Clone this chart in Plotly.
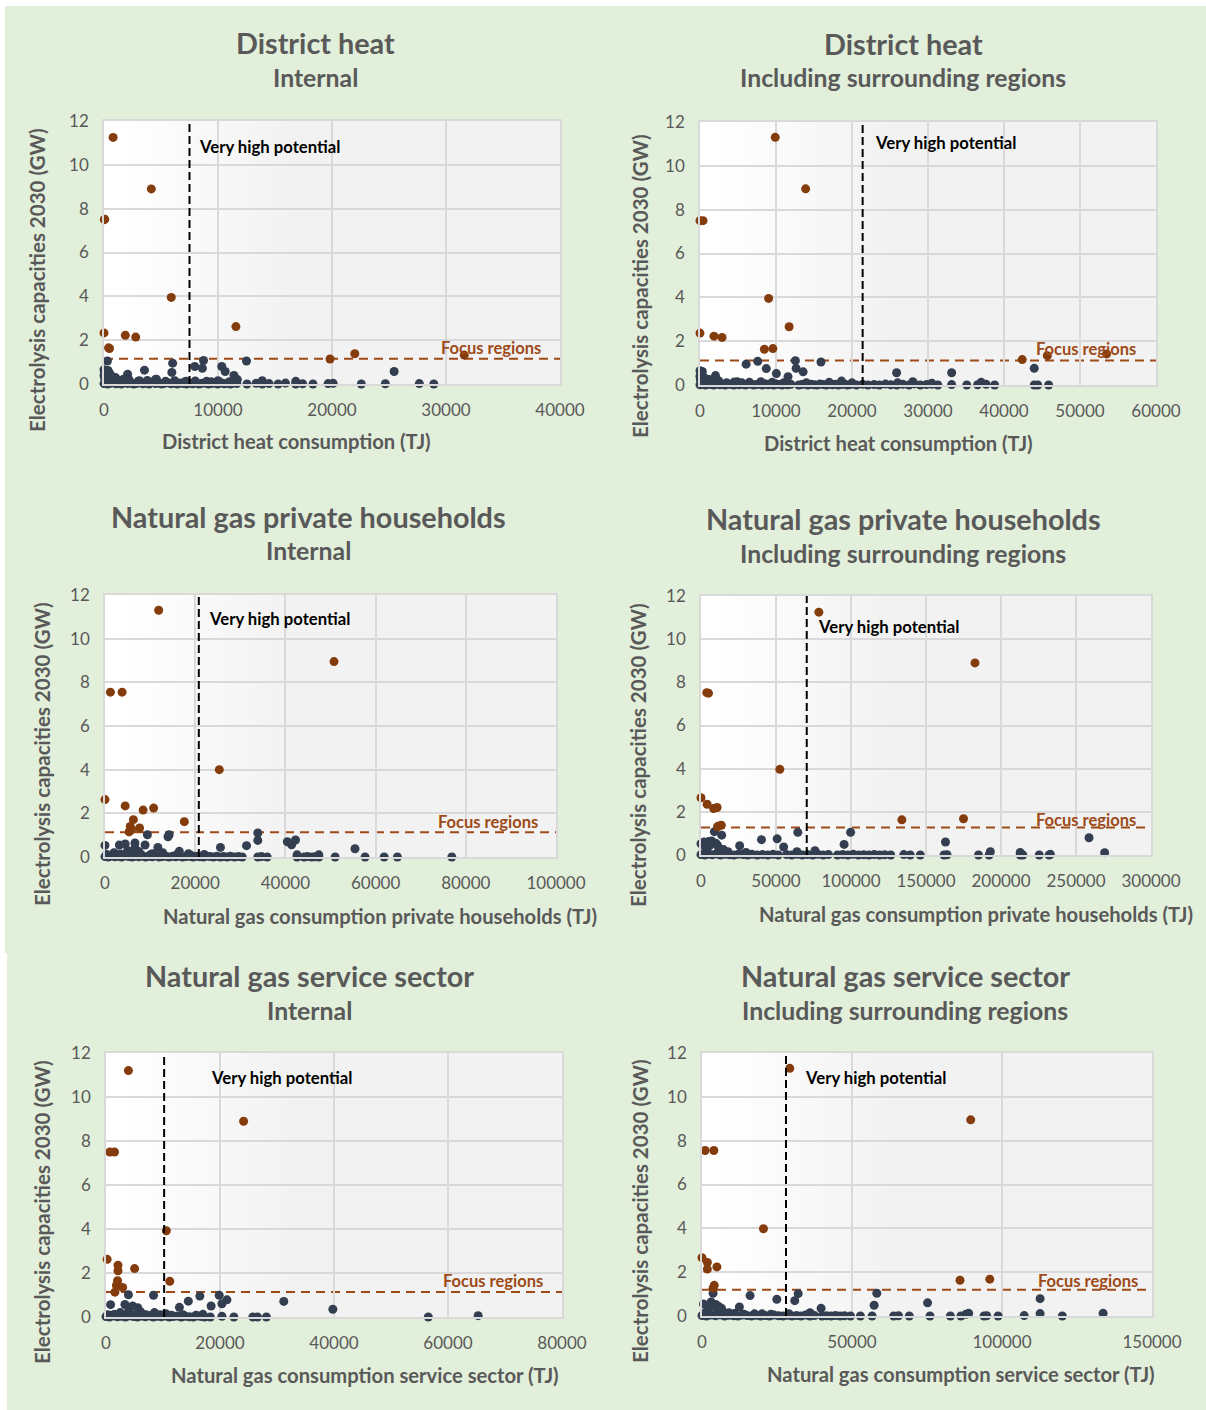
import plotly.graph_objects as go

# ---------------- DATA ----------------
# Each list holds (consumption TJ, electrolysis capacity 2030 GW) pairs.

dh_int_focus = [(800, 11.25), (4150, 8.9), (30, 7.5), (60, 7.52), (5900, 3.95), (0, 2.33),
                (1870, 2.22), (2780, 2.14), (400, 1.65), (480, 1.62), (11570, 2.62),
                (19830, 1.14), (22000, 1.38), (31600, 1.32)]
dh_int_other = [(0, 0.65), (40, 0.55), (90, 0.45), (150, 0.6), (210, 0.35), (300, 1.05), (350, 0.62),
                (420, 0.3), (480, 0.5), (60, 0.25), (130, 0.2), (260, 0.18), (0, 0.38), (380, 0.12),
                (2070, 0.45), (3550, 0.63), (4500, 0.2), (5950, 0.53), (6020, 0.95), (7960, 0.8),
                (8630, 0.72), (8730, 1.07), (10330, 0.8), (10630, 0.57), (11400, 0.39), (12500, 1.05),
                (13880, 0.15), (16820, 0.12), (25450, 0.57), (11700, 0.2), (7200, 0.12), (3100, 0.15),
                (9400, 0.1),
                (0, 0.02), (170, 0.05), (330, 0.0), (560, 0.03), (780, 0.06), (1050, 0.01), (1290, 0.04),
                (1530, 0.0), (1820, 0.07), (2080, 0.02), (2330, 0.05), (2610, 0.0), (2900, 0.03),
                (3140, 0.06), (3420, 0.01), (3690, 0.04), (3960, 0.0), (4230, 0.08), (4520, 0.02),
                (4780, 0.05), (5060, 0.0), (5330, 0.03), (5590, 0.06), (5880, 0.01), (6150, 0.04),
                (6430, 0.0), (6690, 0.05), (6960, 0.02), (7240, 0.0), (7520, 0.04), (7790, 0.01),
                (8070, 0.06), (8330, 0.0), (8610, 0.03), (8890, 0.05), (9170, 0.0), (9430, 0.02),
                (9720, 0.04), (9980, 0.0), (10270, 0.06), (10530, 0.01), (10810, 0.03), (11090, 0.0),
                (11370, 0.05), (11650, 0.02), (12540, 0.0), (13340, 0.03), (13880, 0.0), (14480, 0.02),
                (15280, 0.0), (15920, 0.04), (16820, 0.0), (17420, 0.01), (18330, 0.0), (19660, 0.02),
                (20100, 0.03), (22570, 0.0), (24680, 0.01), (27660, 0.02), (28930, 0.0),
                (250, 0.15), (700, 0.18), (1400, 0.14), (2200, 0.2), (3000, 0.13), (3800, 0.16),
                (4600, 0.22), (5400, 0.12), (6200, 0.15), (7100, 0.1), (8000, 0.14), (9000, 0.12),
                (10000, 0.15), (11000, 0.1), (1000, 0.3), (600, 0.4), (1700, 0.22)]

dh_sur_focus = [(9900, 11.3), (13900, 8.95), (0, 7.5), (400, 7.5), (9030, 3.95), (11730, 2.66),
                (0, 2.37), (1840, 2.23), (2900, 2.17), (8470, 1.63), (9590, 1.66), (42400, 1.16),
                (45700, 1.34), (53500, 1.42)]
dh_sur_other = [(0, 0.65), (100, 0.55), (200, 0.45), (300, 0.62), (400, 0.35), (50, 0.25), (150, 0.2),
                (350, 0.15), (0, 0.4), (250, 0.5),
                (2040, 0.43), (6070, 0.95), (7600, 1.08), (8720, 0.75), (10050, 0.52), (11580, 0.38),
                (12550, 1.11), (12650, 0.76), (13570, 0.6), (15920, 1.05), (25870, 0.56), (33110, 0.56),
                (43980, 0.76), (18620, 0.18), (28000, 0.15), (4900, 0.15), (20000, 0.1), (37000, 0.12),
                (0, 0.01), (350, 0.04), (720, 0.0), (1100, 0.05), (1450, 0.02), (1800, 0.0), (2200, 0.06),
                (2600, 0.01), (2950, 0.03), (3300, 0.0), (3700, 0.05), (4050, 0.02), (4450, 0.0),
                (4800, 0.04), (5200, 0.01), (5550, 0.06), (5950, 0.0), (6300, 0.03), (6700, 0.05),
                (7050, 0.0), (7450, 0.02), (7800, 0.04), (8200, 0.0), (8550, 0.06), (8950, 0.01),
                (9300, 0.03), (9700, 0.0), (10050, 0.05), (10450, 0.02), (10800, 0.0), (11200, 0.04),
                (11550, 0.01), (11950, 0.03), (13000, 0.0), (13400, 0.02), (13800, 0.05), (14200, 0.0),
                (14600, 0.03), (15000, 0.01), (15400, 0.0), (15800, 0.04), (16200, 0.02), (16600, 0.0),
                (17000, 0.05), (17400, 0.01), (17800, 0.03), (18200, 0.0), (18600, 0.02), (19000, 0.04),
                (19400, 0.0), (19800, 0.02), (20600, 0.0), (21400, 0.03), (22100, 0.0), (22900, 0.02),
                (23600, 0.0), (24400, 0.04), (25100, 0.01), (25900, 0.0), (26700, 0.03), (27500, 0.0),
                (28200, 0.05), (29000, 0.0), (29800, 0.02), (30500, 0.03), (31300, 0.0), (33110, 0.02),
                (35100, 0.0), (36530, 0.01), (37650, 0.03), (38770, 0.0), (43980, 0.0), (44440, 0.0),
                (45870, 0.0),
                (500, 0.15), (1500, 0.12), (2500, 0.18), (3500, 0.1), (4500, 0.14), (5500, 0.1),
                (6500, 0.12), (8000, 0.15), (9500, 0.12), (11000, 0.1), (14000, 0.1), (17000, 0.12),
                (26000, 0.1), (30500, 0.08), (700, 0.3), (1200, 0.25)]

gh_int_focus = [(11900, 11.3), (50780, 8.95), (1200, 7.55), (3790, 7.55), (25340, 4.0), (0, 2.63),
                (4480, 2.34), (8450, 2.15), (10780, 2.24), (17590, 1.62), (6290, 1.71), (5600, 1.4),
                (5340, 1.15), (7670, 1.33), (5860, 1.25)]
gh_int_other = [(0, 0.53), (3190, 0.55), (4480, 0.6), (6640, 0.64), (6640, 0.41), (8880, 0.55),
                (9400, 1.02), (11720, 0.44), (13970, 0.93), (14220, 1.02), (16470, 0.26), (25600, 0.44),
                (31380, 0.52), (33880, 1.1), (33880, 0.76), (40430, 0.7), (41380, 0.56), (42240, 0.78),
                (55430, 0.38), (42590, 0.1), (47410, 0.1), (5000, 0.3), (2000, 0.2), (7500, 0.25),
                (10500, 0.15), (12800, 0.2), (18500, 0.15), (22000, 0.12),
                (0, 0.02), (700, 0.0), (1500, 0.05), (2200, 0.01), (3000, 0.03), (3700, 0.0), (4500, 0.06),
                (5200, 0.02), (6000, 0.0), (6700, 0.04), (7500, 0.01), (8200, 0.05), (9000, 0.0),
                (9700, 0.03), (10500, 0.01), (11200, 0.06), (12000, 0.0), (12700, 0.02), (13500, 0.04),
                (14200, 0.0), (15000, 0.03), (15700, 0.01), (16500, 0.05), (17200, 0.0), (18000, 0.02),
                (18700, 0.04), (19500, 0.0), (20200, 0.03), (21000, 0.01), (21800, 0.0), (22500, 0.04),
                (23300, 0.02), (24000, 0.0), (24800, 0.03), (25600, 0.0), (26300, 0.02), (27100, 0.0),
                (27800, 0.04), (28700, 0.0), (29600, 0.02), (30430, 0.0), (33880, 0.0), (34700, 0.02),
                (35950, 0.0), (42590, 0.0), (44140, 0.0), (44900, 0.02), (45860, 0.0), (46600, 0.01),
                (47410, 0.0), (51030, 0.0), (57670, 0.0), (61900, 0.0), (64830, 0.0), (76900, 0.0),
                (400, 0.12), (1800, 0.1), (3400, 0.14), (5600, 0.1), (8000, 0.12), (10000, 0.1),
                (13000, 0.08), (16000, 0.12), (19000, 0.08)]

gh_sur_focus = [(78570, 11.25), (182650, 8.9), (3830, 7.52), (5000, 7.5), (52550, 3.97), (0, 2.65),
                (4080, 2.35), (8420, 2.15), (10710, 2.2), (133900, 1.63), (175000, 1.68), (11000, 1.31),
                (13520, 1.38), (11700, 1.34)]
gh_sur_other = [(0, 0.52), (3060, 0.34), (8930, 1.08), (5100, 0.62), (7140, 0.65), (9950, 0.54),
                (13780, 0.92), (25770, 0.43), (40310, 0.71), (50770, 0.75), (55100, 0.37), (64540, 1.05),
                (95400, 0.49), (99740, 1.05), (163000, 0.6), (258700, 0.8), (269100, 0.11),
                (192900, 0.15), (212800, 0.12), (2000, 0.6), (11000, 0.45), (4000, 0.2), (15000, 0.25),
                (18000, 0.15), (30000, 0.12), (64000, 0.15), (76000, 0.2), (2500, 0.42), (6000, 0.45),
                (12000, 0.3),
                (0, 0.02), (2500, 0.0), (5000, 0.04), (7500, 0.01), (10000, 0.05), (13000, 0.0),
                (16000, 0.03), (19000, 0.01), (22000, 0.0), (25000, 0.04), (28000, 0.02), (31000, 0.0),
                (34000, 0.03), (37500, 0.0), (41000, 0.02), (44500, 0.0), (48000, 0.03), (51500, 0.0),
                (57000, 0.02), (60500, 0.0), (64000, 0.03), (67500, 0.0), (71000, 0.02), (74500, 0.0),
                (78000, 0.03), (81500, 0.0), (85000, 0.02), (91000, 0.0), (94500, 0.02), (98000, 0.0),
                (101500, 0.03), (105000, 0.0), (108500, 0.01), (112000, 0.0), (115500, 0.02),
                (119000, 0.0), (122500, 0.01), (126500, 0.0), (135200, 0.02), (139500, 0.0),
                (146200, 0.0), (162000, 0.0), (164000, 0.01), (185000, 0.0), (192100, 0.0),
                (212800, 0.0), (214500, 0.0), (225500, 0.0), (232100, 0.0), (232900, 0.03)]

gs_int_focus = [(3930, 11.2), (24140, 8.9), (680, 7.5), (1490, 7.5), (10580, 3.92), (200, 2.62),
                (2100, 2.35), (2100, 2.1), (5020, 2.2), (11190, 1.62), (2030, 1.65), (1830, 1.43),
                (2920, 1.34), (1560, 1.13)]
gs_int_other = [(810, 0.56), (3930, 1.01), (3320, 0.57), (4680, 0.5), (5560, 0.42), (8340, 0.99),
                (12880, 0.44), (14440, 0.72), (16470, 0.95), (18440, 0.5), (19860, 0.99), (20340, 0.6),
                (21220, 0.78), (31190, 0.71), (39800, 0.35), (65290, 0.06), (2500, 0.2), (6000, 0.25),
                (8500, 0.2), (10500, 0.15), (1500, 0.12), (4000, 0.3), (7000, 0.1),
                (0, 0.02), (600, 0.0), (1300, 0.05), (2000, 0.01), (2700, 0.03), (3400, 0.0), (4100, 0.05),
                (4800, 0.02), (5500, 0.0), (6200, 0.04), (6900, 0.01), (7600, 0.05), (8300, 0.0),
                (9000, 0.03), (9700, 0.01), (10400, 0.04), (11100, 0.0), (11800, 0.02), (12500, 0.04),
                (13200, 0.0), (13900, 0.03), (14600, 0.01), (15300, 0.0), (16000, 0.04), (16700, 0.02),
                (17300, 0.0), (18300, 0.0), (20340, 0.03), (22440, 0.0), (25760, 0.0), (26580, 0.0),
                (28140, 0.0), (56540, 0.0),
                (300, 0.1), (1000, 0.08), (2300, 0.1), (3700, 0.12), (5200, 0.1), (6500, 0.12),
                (8000, 0.08), (9500, 0.1), (11500, 0.08), (13500, 0.1), (15800, 0.08), (17000, 0.12)]

gs_sur_focus = [(29260, 11.3), (89570, 8.95), (1020, 7.55), (3940, 7.55), (20480, 3.98), (0, 2.66),
                (1780, 2.44), (1780, 2.14), (4960, 2.24), (4070, 1.4), (3690, 1.27), (86000, 1.63),
                (95930, 1.68)]
gs_sur_other = [(3690, 1.04), (510, 0.55), (3050, 0.64), (4580, 0.53), (5600, 0.43), (16030, 0.93),
                (12470, 0.41), (24940, 0.76), (30920, 0.7), (32060, 1.02), (39700, 0.35), (57380, 0.49),
                (58270, 1.04), (75190, 0.6), (112700, 0.79), (112700, 0.11), (133700, 0.12),
                (88900, 0.12), (88000, 0.08), (2000, 0.3), (7000, 0.2), (9000, 0.15), (6500, 0.35),
                (1200, 0.15), (20000, 0.1), (36000, 0.15), (4000, 0.45),
                (0, 0.02), (1500, 0.0), (3000, 0.04), (4500, 0.01), (6000, 0.05), (7500, 0.0),
                (9000, 0.03), (10500, 0.01), (12000, 0.0), (13500, 0.04), (15000, 0.02), (16500, 0.0),
                (18000, 0.03), (19500, 0.0), (21000, 0.02), (22500, 0.0), (24000, 0.04), (25500, 0.01),
                (27000, 0.0), (28500, 0.03), (30000, 0.0), (31500, 0.02), (33000, 0.0), (34500, 0.04),
                (36000, 0.0), (37500, 0.02), (40000, 0.0), (41500, 0.01), (43000, 0.0), (44500, 0.02),
                (46000, 0.0), (47500, 0.01), (49500, 0.0), (52800, 0.0), (56700, 0.0), (63900, 0.0),
                (65500, 0.01), (69100, 0.0), (76000, 0.0), (82800, 0.0), (86300, 0.0), (94000, 0.0),
                (94900, 0.01), (98700, 0.0), (107400, 0.02), (120100, 0.0),
                (800, 0.1), (2500, 0.12), (5200, 0.15), (8000, 0.1), (11000, 0.12), (14000, 0.08),
                (17500, 0.1), (23000, 0.08), (29000, 0.1)]

# threshold lines
very_high_threshold = [7500, 21400, 20800, 70500, 10200, 28000]   # TJ
focus_threshold = [1.15, 1.12, 1.13, 1.27, 1.14, 1.2]            # GW

titles = ["District heat", "District heat", "Natural gas private households",
          "Natural gas private households", "Natural gas service sector", "Natural gas service sector"]
subtitles = ["Internal", "Including surrounding regions"] * 3
x_titles = ["District heat consumption (TJ)", "District heat consumption (TJ)",
            "Natural gas consumption private households (TJ)",
            "Natural gas consumption private households (TJ)",
            "Natural gas consumption service sector (TJ)",
            "Natural gas consumption service sector (TJ)"]
y_title = "Electrolysis capacities 2030 (GW)"
x_max = [40000, 60000, 100000, 300000, 80000, 150000]
x_dtick = [10000, 10000, 20000, 50000, 20000, 50000]

focus_sets = [dh_int_focus, dh_sur_focus, gh_int_focus, gh_sur_focus, gs_int_focus, gs_sur_focus]
other_sets = [dh_int_other, dh_sur_other, gh_int_other, gh_sur_other, gs_int_other, gs_sur_other]

# ---------------- LAYOUT / STYLE ----------------
W, H = 1206, 1410
FONT = "Lato"
GREY = "#595959"
DARK = "#333f50"
ORANGE = "#843c0c"
FOCUS_LINE = "#9e4a17"
GREEN = "#e2efda"

# plot boxes in pixels: left, right, top, bottom
boxes = [(104, 560, 121, 384), (700, 1156, 122, 385),
         (105, 556, 595, 857), (701, 1151, 596, 855),
         (106, 562, 1053, 1317), (702, 1152, 1053, 1316)]
title_pos = [(315, 43, 77), (903, 44, 78), (308, 517, 551), (903, 519, 553), (309, 976, 1010), (905, 976, 1010)]
xtitle_pos = [(296, 441), (898, 443), (380, 916), (976, 914), (365, 1375), (961, 1374)]
ytitle_pos = [(37, 280), (640, 286), (42, 754), (638, 755), (42, 1212), (640, 1211)]
vhp_pos = [(8180, 10.8), (22710, 11.05), (22570, 10.9), (76500, 10.55), (18070, 10.86), (33700, 10.86)]
focus_lbl_pos = [(38500, 1.64), (57630, 1.64), (96460, 1.6), (291400, 1.61), (77000, 1.64), (146000, 1.59)]


def px(x):
    return x / W


def py(y):
    return 1 - y / H


fig = go.Figure()
layout = dict(width=W, height=H, margin=dict(l=0, r=0, t=0, b=0, pad=0, autoexpand=False),
              autosize=False,
              paper_bgcolor=GREEN, plot_bgcolor="#f2f2f2", showlegend=False,
              font=dict(family=FONT, color=GREY))
shapes = []
annotations = []

# white strips along the top / left picture edges
shapes.append(dict(type="rect", xref="paper", yref="paper", x0=0, x1=1, y0=py(6), y1=1.01,
                   fillcolor="white", line_width=0, layer="above"))
shapes.append(dict(type="rect", xref="paper", yref="paper", x0=-0.01, x1=px(5), y0=py(953), y1=1.01,
                   fillcolor="white", line_width=0, layer="above"))
shapes.append(dict(type="rect", xref="paper", yref="paper", x0=-0.01, x1=px(7), y0=-0.01, y1=py(953),
                   fillcolor="white", line_width=0, layer="above"))

for i in range(6):
    n = i + 1
    xs = "x" if n == 1 else f"x{n}"
    ys = "y" if n == 1 else f"y{n}"
    l, r, t, b = boxes[i]
    axis_common = dict(showgrid=True, gridcolor="#d9d9d9", gridwidth=1.5, zeroline=False,
                       showline=True, mirror=True, linecolor="#d9d9d9", linewidth=1.5,
                       ticks="outside", ticklen=10, tickcolor="rgba(0,0,0,0)", automargin=False,
                       tickfont=dict(family=FONT, size=17, color=GREY))
    layout["xaxis" if n == 1 else f"xaxis{n}"] = dict(
        domain=[px(l), px(r)], range=[0, x_max[i]], dtick=x_dtick[i], tickformat="d",
        anchor=ys, **axis_common)
    layout["yaxis" if n == 1 else f"yaxis{n}"] = dict(
        domain=[py(b), py(t)], range=[0, 12], dtick=2, anchor=xs, **axis_common)

    # gradient background (white at left fading into grey)
    steps = 13
    g0, g1 = 0.02, 0.40
    shapes.append(dict(type="rect", xref=f"{xs} domain", yref=f"{ys} domain", x0=0, x1=g0 + 0.001,
                       y0=0, y1=1, fillcolor="white", line_width=0, layer="below"))
    for k in range(steps):
        c = 255 - k
        shapes.append(dict(type="rect", xref=f"{xs} domain", yref=f"{ys} domain",
                           x0=g0 + (g1 - g0) * k / steps, x1=g0 + (g1 - g0) * (k + 1) / steps + 0.002,
                           y0=0, y1=1, fillcolor=f"rgb({c},{c},{c})", line_width=0, layer="below"))
    shapes.append(dict(type="rect", xref=f"{xs} domain", yref=f"{ys} domain", x0=g1, x1=1,
                       y0=0, y1=1, fillcolor="#f2f2f2", line_width=0, layer="below"))

    # focus-region threshold (drawn below the dots)
    shapes.append(dict(type="line", xref=f"{xs} domain", yref=ys, x0=0, x1=1,
                       y0=focus_threshold[i], y1=focus_threshold[i],
                       line=dict(color=FOCUS_LINE, width=2, dash="9px,6px"), layer="below"))
    # very-high-potential threshold
    shapes.append(dict(type="line", xref=xs, yref=f"{ys} domain", x0=very_high_threshold[i],
                       x1=very_high_threshold[i], y0=0, y1=1,
                       line=dict(color="black", width=2, dash="8px,4px"), layer="above"))

    other = other_sets[i]
    focus = focus_sets[i]
    fig.add_trace(go.Scatter(x=[p[0] for p in other], y=[p[1] for p in other], mode="markers",
                             xaxis=xs, yaxis=ys, cliponaxis=False, hoverinfo="skip",
                             marker=dict(size=9, color=DARK, line_width=0)))
    fig.add_trace(go.Scatter(x=[p[0] for p in focus], y=[p[1] for p in focus], mode="markers",
                             xaxis=xs, yaxis=ys, cliponaxis=False, hoverinfo="skip",
                             marker=dict(size=9, color=ORANGE, line_width=0)))

    # texts
    tx, ty1, ty2 = title_pos[i]
    annotations.append(dict(text=f"<b>{titles[i]}</b>", x=px(tx), y=py(ty1), xref="paper", yref="paper",
                            showarrow=False, xanchor="center", yanchor="middle",
                            font=dict(family=FONT, size=28.8, color=GREY)))
    annotations.append(dict(text=f"<b>{subtitles[i]}</b>", x=px(tx), y=py(ty2), xref="paper", yref="paper",
                            showarrow=False, xanchor="center", yanchor="middle",
                            font=dict(family=FONT, size=24.8, color=GREY)))
    ax_, ay_ = xtitle_pos[i]
    annotations.append(dict(text=f"<b>{x_titles[i]}</b>", x=px(ax_), y=py(ay_), xref="paper", yref="paper",
                            showarrow=False, xanchor="center", yanchor="middle",
                            font=dict(family=FONT, size=20.2, color=GREY)))
    yx, yy = ytitle_pos[i]
    annotations.append(dict(text=f"<b>{y_title}</b>", x=px(yx), y=py(yy), xref="paper", yref="paper",
                            showarrow=False, xanchor="center", yanchor="middle", textangle=-90,
                            font=dict(family=FONT, size=20.5, color=GREY)))
    vx, vy = vhp_pos[i]
    annotations.append(dict(text="<b>Very high potential</b>", x=vx, y=vy, xref=xs, yref=ys,
                            showarrow=False, xanchor="left", yanchor="middle",
                            font=dict(family=FONT, size=16.7, color="black")))
    fx, fy = focus_lbl_pos[i]
    annotations.append(dict(text="<b>Focus regions</b>", x=fx, y=fy, xref=xs, yref=ys,
                            showarrow=False, xanchor="right", yanchor="middle",
                            font=dict(family=FONT, size=16.5, color=FOCUS_LINE)))

layout["shapes"] = shapes
layout["annotations"] = annotations
fig.update_layout(**layout)
fig.write_html("out.html", config={"displayModeBar": False},
               post_script="document.body.style.margin='0px';document.body.style.overflow='hidden';")
